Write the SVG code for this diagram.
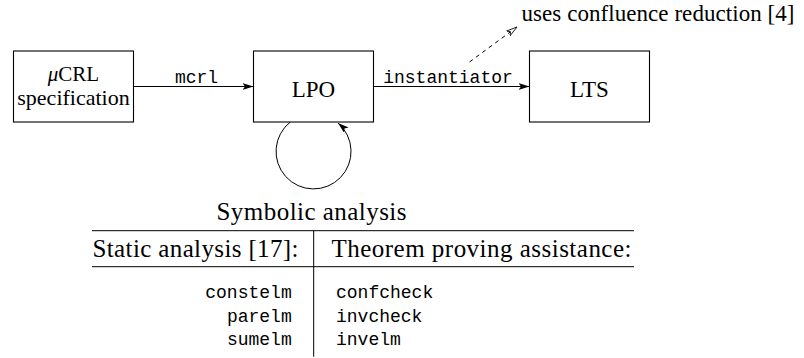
<svg xmlns="http://www.w3.org/2000/svg" width="804" height="358" viewBox="0 0 804 358">
<style>
.box{fill:#fff;stroke:#000;stroke-width:1.1}
.t{font-family:"Liberation Serif","Times New Roman",serif;fill:#000}
.lbl{font-size:23px;text-anchor:middle}
.tt{font-family:"Liberation Mono","Courier New",monospace;font-size:18px;fill:#000}
.ln{stroke:#000;stroke-width:1;fill:none}
</style>
<defs>
<marker id="ah" markerWidth="12" markerHeight="8" refX="11" refY="3.5" orient="auto" markerUnits="userSpaceOnUse">
<path d="M0,0 L11,3.5 L0,7 L2.5,3.5 z" fill="#000"/>
</marker>
<marker id="ahOpen" markerWidth="13" markerHeight="8" refX="11" refY="3.5" orient="auto" markerUnits="userSpaceOnUse">
<path d="M0,0.5 L11,3.5 L0,6.5 L3,3.5 z" fill="#fff" stroke="#000" stroke-width="0.8"/>
</marker>
</defs>

<g id="connectors">
<line class="ln" x1="133.5" y1="86.5" x2="253.5" y2="86.5" marker-end="url(#ah)"/>
<line class="ln" x1="373.5" y1="86.5" x2="529.5" y2="86.5" marker-end="url(#ah)"/>
<path class="ln" d="M290.3,122 A37.5,37.5 0 1 0 338,123" marker-end="url(#ah)"/>
<line class="ln" x1="469.5" y1="62" x2="517" y2="27" stroke-dasharray="4,4" marker-end="url(#ahOpen)"/>
<text class="tt" x="196.5" y="83" text-anchor="middle">mcrl</text>
<text class="tt" x="448" y="83" text-anchor="middle">instantiator</text>
</g>

<g id="spec">
<rect class="box" x="13.5" y="51" width="120" height="71"/>
<text class="t" x="73.5" y="80.5" font-size="21" text-anchor="middle"><tspan font-style="italic">μ</tspan>CRL</text>
<text class="t" x="73.5" y="105" font-size="22" text-anchor="middle">specification</text>
</g>

<g id="lpo">
<rect class="box" x="253.5" y="51" width="120" height="71"/>
<text class="t lbl" x="313.5" y="96.7">LPO</text>
</g>

<g id="lts">
<rect class="box" x="529.5" y="51" width="120" height="71"/>
<text class="t lbl" x="589.5" y="96.7">LTS</text>
</g>

<g id="note">
<text class="t" x="521.5" y="20.5" font-size="23" textLength="273" lengthAdjust="spacing">uses confluence reduction [4]</text>
</g>

<g id="table">
<text class="t" x="216.5" y="220" font-size="25" textLength="190" lengthAdjust="spacing">Symbolic analysis</text>
<line class="ln" x1="92" y1="230.7" x2="634" y2="230.7"/>
<line class="ln" x1="92" y1="266.7" x2="634" y2="266.7"/>
<line class="ln" x1="313.7" y1="230.7" x2="313.7" y2="356.7"/>
<text class="t" x="92.5" y="256.7" font-size="25" textLength="206" lengthAdjust="spacing">Static analysis [17]:</text>
<text class="t" x="331.5" y="256.7" font-size="25" textLength="300" lengthAdjust="spacing">Theorem proving assistance:</text>
<text class="tt" x="291.7" y="298.3" text-anchor="end">constelm</text>
<text class="tt" x="291.7" y="321.8" text-anchor="end">parelm</text>
<text class="tt" x="291.7" y="345.2" text-anchor="end">sumelm</text>
<text class="tt" x="336" y="298.3">confcheck</text>
<text class="tt" x="336" y="321.8">invcheck</text>
<text class="tt" x="336" y="345.2">invelm</text>
</g>
</svg>
